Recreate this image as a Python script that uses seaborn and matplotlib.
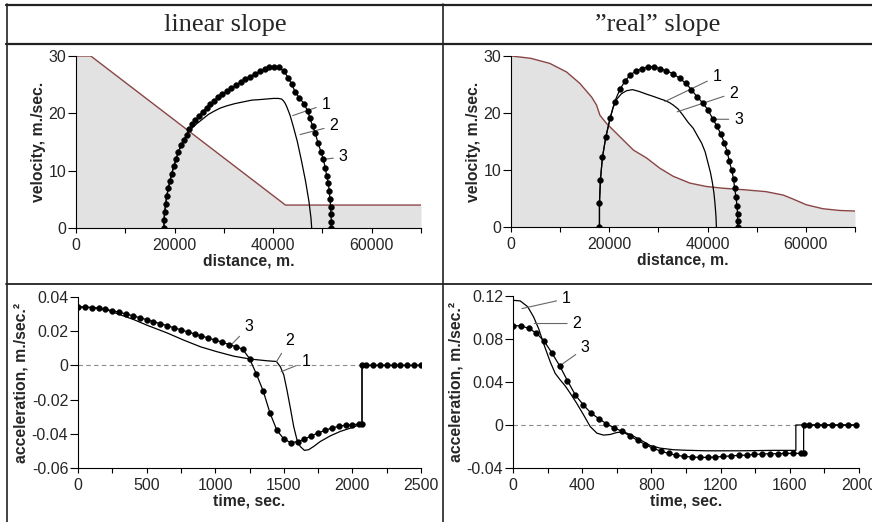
import matplotlib.pyplot as plt
import seaborn as sns
from matplotlib.lines import Line2D
from matplotlib.ticker import MultipleLocator, FuncFormatter

sns.set_style("ticks")
plt.rcParams['font.family'] = ['Liberation Sans', 'DejaVu Sans']
plt.rcParams['axes.unicode_minus'] = False

# ---------------- data ----------------
# top left: linear slope profile and velocity vs distance
lin_slope_x = [0, 3000, 42500, 70000]
lin_slope_v = [30, 30, 4, 4]

lin_v3_x = [17850, 17850, 18000, 18200, 18400, 18730, 19070, 19420, 19880, 20290,
            20760, 21300, 21910, 22460, 22990, 23600, 24210, 24960, 25700, 26510,
            27190, 28000, 28880, 29690, 30570, 31520, 32460, 33410, 34350, 35300,
            36380, 37330, 38290, 39220, 40230, 41250, 42200, 43080, 43760, 44440,
            45310, 46260, 47000, 47480, 48010, 48550, 49090, 49700, 50170, 50580,
            50860, 51190, 51390, 51530, 51660, 51730, 51800, 51800]
lin_v3_v = [0.0, 1.4, 2.8, 4.2, 5.5, 6.9, 8.2, 9.5, 10.8, 12.0,
            13.2, 14.4, 15.3, 16.3, 17.3, 18.1, 18.8, 19.6, 20.3, 21.0,
            21.6, 22.2, 22.8, 23.3, 23.9, 24.4, 24.9, 25.5, 26.0, 26.4,
            26.9, 27.3, 27.7, 28.0, 28.1, 28.0, 27.3, 26.2, 25.1, 23.8,
            22.7, 21.7, 20.4, 19.1, 17.8, 16.5, 14.9, 13.3, 12.0, 10.5,
            9.1, 7.8, 6.5, 5.1, 3.7, 2.4, 1.1, 0.0]

lin_v12_x = [17850, 17850, 18000, 18200, 18400, 18730, 19070, 19420, 19880, 20290,
             20760, 21300, 21910, 22460, 23000, 23800, 24810, 25830, 26850, 27860,
             29220, 30570, 32260, 33950, 35640, 37330, 38690, 40000, 41050, 41700,
             42070, 42400, 42740, 43420, 44090, 44900, 45780, 46590, 47270, 47680, 47820]
lin_v12_v = [0.0, 1.4, 2.8, 4.2, 5.5, 6.9, 8.2, 9.5, 10.8, 12.0,
             13.2, 14.4, 15.3, 16.2, 16.9, 17.7, 18.4, 19.1, 19.8, 20.3,
             20.9, 21.3, 21.7, 22.0, 22.3, 22.4, 22.5, 22.6, 22.6, 22.5,
             22.2, 21.8, 21.2, 19.7, 17.7, 15.1, 11.6, 8.1, 4.6, 1.7, 0.0]

# top right: "real" slope profile and velocity vs distance
real_slope_x = [0, 4000, 7900, 11300, 14000, 16400, 17400, 18100, 19400, 22200,
                24900, 27600, 30300, 33000, 36400, 39800, 43200, 47900, 51900, 55400,
                57400, 60100, 63500, 66900, 70000]
real_slope_v = [30, 29.6, 28.7, 27.2, 25.2, 22.8, 21.4, 19.6, 18.2, 15.8,
                13.5, 12.1, 10.3, 8.9, 7.7, 7.1, 6.8, 6.5, 6.2, 5.6,
                4.9, 3.9, 3.2, 2.9, 2.8]

real_v3_x = [18000, 18000, 18200, 18600, 19300, 20200, 21100, 22200, 23200, 24300,
             25500, 26700, 27900, 29100, 30300, 31600, 33000, 34300, 35600, 36700,
             37900, 39100, 40100, 41100, 41900, 42700, 43400, 44000, 44400, 44900,
             45300, 45500, 45800, 46000, 46100, 46100, 46100]
real_v3_v = [0.0, 4.2, 8.3, 12.2, 15.8, 19.2, 22.0, 24.2, 25.6, 26.7,
             27.4, 27.8, 28.1, 28.1, 27.8, 27.4, 26.9, 26.1, 25.2, 24.1,
             22.8, 21.7, 20.5, 18.9, 17.7, 16.3, 14.8, 13.2, 11.6, 10.0,
             8.4, 6.8, 5.2, 3.6, 2.2, 1.0, 0.0]

real_v12_x = [18000, 18000, 18200, 18600, 19300, 20200, 20800, 21500, 22500, 23500,
              24700, 26000, 27600, 29000, 30300, 31300, 32300, 33000, 34000, 35000,
              36000, 37100, 38000, 38800, 39500, 40100, 40600, 41000, 41300, 41500,
              41700, 41800]
real_v12_v = [0.0, 4.2, 8.3, 12.2, 15.8, 19.2, 21.0, 22.4, 23.4, 23.9,
              24.1, 23.8, 23.3, 22.9, 22.5, 22.2, 21.8, 21.4, 20.7, 19.6,
              18.4, 17.3, 15.9, 14.7, 13.2, 11.2, 9.5, 7.7, 5.9, 4.2,
              2.0, 0.0]

# bottom left: acceleration vs time, linear slope
lin_t3 = [0, 50, 100, 150, 200, 250, 300, 350, 400, 450,
          500, 550, 600, 650, 700, 750, 800, 850, 900, 950,
          1000, 1050, 1100, 1150, 1200, 1250, 1300, 1350, 1400, 1450,
          1500, 1550, 1600, 1650, 1700, 1750, 1800, 1850, 1900, 1950,
          2000, 2050, 2070, 2070, 2100, 2150, 2200, 2250, 2300, 2350,
          2400, 2450, 2500]
lin_a3 = [0.0342, 0.0340, 0.0338, 0.0334, 0.0328, 0.0320, 0.0311, 0.0301, 0.0290, 0.0279,
          0.0268, 0.0256, 0.0244, 0.0232, 0.0220, 0.0208, 0.0196, 0.0184, 0.0172, 0.0160,
          0.0148, 0.0136, 0.0122, 0.0110, 0.0095, 0.0040, -0.0050, -0.0150, -0.0280, -0.0380,
          -0.0430, -0.0452, -0.0446, -0.0432, -0.0412, -0.0395, -0.0380, -0.0366, -0.0356, -0.0350,
          -0.0347, -0.0343, -0.0342, 0.0, 0.0, 0.0, 0.0, 0.0, 0.0, 0.0,
          0.0, 0.0, 0.0]

lin_t12 = [0, 100, 200, 284, 406, 503, 649, 770, 892, 1013,
           1135, 1256, 1378, 1446, 1475, 1500, 1523, 1548, 1572, 1596,
           1620, 1650, 1681, 1718, 1766, 1839, 1912, 1985, 2070, 2070, 2500]
lin_a12 = [0.0342, 0.0339, 0.0328, 0.0303, 0.0268, 0.0235, 0.0190, 0.0148, 0.0109, 0.0080,
           0.0054, 0.0037, 0.0027, 0.0023, -0.0008, -0.0056, -0.0144, -0.0250, -0.0357, -0.0435,
           -0.0474, -0.0497, -0.0493, -0.0474, -0.0445, -0.0412, -0.0386, -0.0367, -0.0342, 0.0, 0.0]

# bottom right: acceleration vs time, "real" slope
real_t3 = [0, 45, 90, 135, 180, 225, 270, 315, 360, 405,
           450, 495, 540, 585, 630, 675, 720, 765, 810, 855,
           900, 945, 990, 1035, 1080, 1125, 1170, 1215, 1260, 1305,
           1350, 1395, 1440, 1485, 1530, 1575, 1620, 1665, 1680, 1680,
           1710, 1755, 1800, 1845, 1890, 1935, 1980]
real_a3 = [0.0925, 0.0922, 0.0900, 0.0855, 0.0780, 0.0670, 0.0550, 0.0412, 0.0280, 0.0190,
           0.0112, 0.0060, 0.0012, -0.0028, -0.0058, -0.0102, -0.0142, -0.0182, -0.0217, -0.0243,
           -0.0265, -0.0282, -0.0292, -0.0298, -0.0301, -0.0301, -0.0298, -0.0293, -0.0287, -0.0283,
           -0.0280, -0.0274, -0.0270, -0.0267, -0.0267, -0.0265, -0.0264, -0.0264, -0.0264, 0.0,
           0.0, 0.0, 0.0, 0.0, 0.0, 0.0, 0.0]

real_t12 = [0, 42, 85, 119, 148, 167, 187, 215, 244, 273,
            302, 331, 369, 408, 446, 485, 523, 562, 600, 638,
            677, 735, 792, 850, 927, 1000, 1119, 1312, 1504, 1635,
            1635, 2000]
real_a12 = [0.1160, 0.1154, 0.1100, 0.1005, 0.0897, 0.0805, 0.0712, 0.0588, 0.0480, 0.0419,
            0.0363, 0.0295, 0.0200, 0.0094, -0.0014, -0.0076, -0.0094, -0.0088, -0.0070, -0.0063,
            -0.0088, -0.0137, -0.0190, -0.0215, -0.0230, -0.0235, -0.0240, -0.0240, -0.0236, -0.0236,
            0.0, 0.0]

headers = ['linear slope', '\u201dreal\u201d slope']

SLOPE_COLOR = '#8a4545'
FILL_COLOR = '#e2e2e2'
LEADER_COLOR = '#666666'
TICK_FS = 11.5
LABEL_FS = 11.3


def fmt(v, pos):
    return f'{round(v, 6) + 0.0:g}'


def style_axes(ax, xlim, ylim, xmajor, xminor, ymajor, xlabel, ylabel):
    ax.set_xlim(*xlim)
    ax.set_ylim(*ylim)
    ax.xaxis.set_major_locator(MultipleLocator(xmajor))
    ax.xaxis.set_minor_locator(MultipleLocator(xminor))
    ax.yaxis.set_major_locator(MultipleLocator(ymajor))
    ax.xaxis.set_major_formatter(FuncFormatter(fmt))
    ax.yaxis.set_major_formatter(FuncFormatter(fmt))
    ax.tick_params(axis='x', which='both', direction='out', length=3.5, width=0.8,
                   pad=4, labelsize=TICK_FS, color='black')
    ax.tick_params(axis='y', which='major', direction='out', length=5.5, width=0.8,
                   pad=1.5, labelsize=TICK_FS, color='black')
    ax.tick_params(axis='y', which='minor', length=0)
    for side in ['top', 'right']:
        ax.spines[side].set_visible(False)
    for side in ['left', 'bottom']:
        ax.spines[side].set_linewidth(0.8)
        ax.spines[side].set_color('black')
    ax.set_xlabel(xlabel, fontsize=LABEL_FS, fontweight='bold', labelpad=0)
    ax.set_ylabel(ylabel, fontsize=LABEL_FS, fontweight='bold', labelpad=2)
    ax.set_facecolor('none')


def curve(ax, x, y, dots=False):
    if dots:
        sns.lineplot(x=x, y=y, ax=ax, sort=False, estimator=None, color='black', lw=0.9,
                     marker='o', markersize=4.2, markeredgecolor='black',
                     markeredgewidth=0.3, zorder=4)
    else:
        sns.lineplot(x=x, y=y, ax=ax, sort=False, estimator=None, color='black', lw=0.9,
                     zorder=3)


def leader(ax, label, anchor, textpos):
    ax.annotate(label, xy=anchor, xytext=textpos, ha='center', va='center',
                fontsize=TICK_FS, color='black',
                arrowprops=dict(arrowstyle='-', color=LEADER_COLOR, lw=0.8,
                                shrinkA=1.5, shrinkB=0))


def velocity_panel(ax, slope_x, slope_v, v12_x, v12_v, v3_x, v3_v, labels):
    ax.fill_between(slope_x, slope_v, 0, color=FILL_COLOR, lw=0, zorder=1)
    sns.lineplot(x=slope_x, y=slope_v, ax=ax, sort=False, estimator=None,
                 color=SLOPE_COLOR, lw=1.0, zorder=2)
    curve(ax, v12_x, v12_v)
    curve(ax, v3_x, v3_v, dots=True)
    for lab, anchor, pos in labels:
        leader(ax, lab, anchor, pos)
    style_axes(ax, (0, 70000), (0, 30), 20000, 10000, 10,
               'distance, m.', 'velocity, m./sec.')


def accel_panel(ax, t12, a12, t3, a3, xlim, ylim, xmajor, xminor, ymajor, labels):
    ax.axhline(0, color='#8c8c8c', lw=0.8, ls=(0, (4, 3)), zorder=1)
    curve(ax, t12, a12)
    curve(ax, t3, a3, dots=True)
    for lab, anchor, pos in labels:
        leader(ax, lab, anchor, pos)
    style_axes(ax, xlim, ylim, xmajor, xminor, ymajor,
               'time, sec.', 'acceleration, m./sec.\u00b2')


W, H = 872, 522
fig = plt.figure(figsize=(W / 100, H / 100), dpi=100)


def px_axes(left, top, right, bottom):
    return fig.add_axes([left / W, 1 - bottom / H, (right - left) / W, (bottom - top) / H])


ax_tl = px_axes(76, 56, 421, 228)
ax_tr = px_axes(511, 56, 855, 227)
ax_bl = px_axes(78, 297, 421, 468)
ax_br = px_axes(513, 296, 859, 468)

velocity_panel(ax_tl, lin_slope_x, lin_slope_v, lin_v12_x, lin_v12_v, lin_v3_x, lin_v3_v,
               [('1', (43960, 19.6), (50700, 21.6)),
                ('2', (45450, 16.3), (52300, 17.8)),
                ('3', (50530, 12.0), (54200, 12.4))])
velocity_panel(ax_tr, real_slope_x, real_slope_v, real_v12_x, real_v12_v, real_v3_x, real_v3_v,
               [('1', (31300, 22.0), (41900, 26.4)),
                ('2', (33800, 20.2), (45300, 23.5)),
                ('3', (40800, 18.9), (46300, 18.9))])
accel_panel(ax_bl, lin_t12, lin_a12, lin_t3, lin_a3, (0, 2500), (-0.06, 0.04), 500, 250, 0.02,
            [('3', (1110, 0.0115), (1244, 0.0225)),
             ('2', (1446, 0.0021), (1540, 0.0144)),
             ('1', (1480, -0.0037), (1660, 0.0021))])
accel_panel(ax_br, real_t12, real_a12, real_t3, real_a3, (0, 2000), (-0.04, 0.12), 400, 200, 0.04,
            [('1', (52, 0.1083), (308, 0.1175)),
             ('2', (123, 0.0944), (369, 0.0944)),
             ('3', (277, 0.0558), (417, 0.0718))])

# table frame
def hline(y, x0=6, x1=W, lw=1.6):
    fig.add_artist(Line2D([x0 / W, x1 / W], [1 - y / H, 1 - y / H], color='#222222', lw=lw))


def vline(x, y0=4, y1=H, lw=1.2):
    fig.add_artist(Line2D([x / W, x / W], [1 - y0 / H, 1 - y1 / H], color='#222222', lw=lw))


hline(5)
hline(44)
hline(284, lw=1.3)
vline(7)
vline(443)

fig.text(225 / W, 1 - 25 / H, headers[0], ha='center', va='center',
         fontsize=19, family=['Liberation Serif', 'DejaVu Serif'])
fig.text(658 / W, 1 - 25 / H, headers[1], ha='center', va='center',
         fontsize=19, family=['Liberation Serif', 'DejaVu Serif'])

plt.savefig('out.png', dpi=100)
